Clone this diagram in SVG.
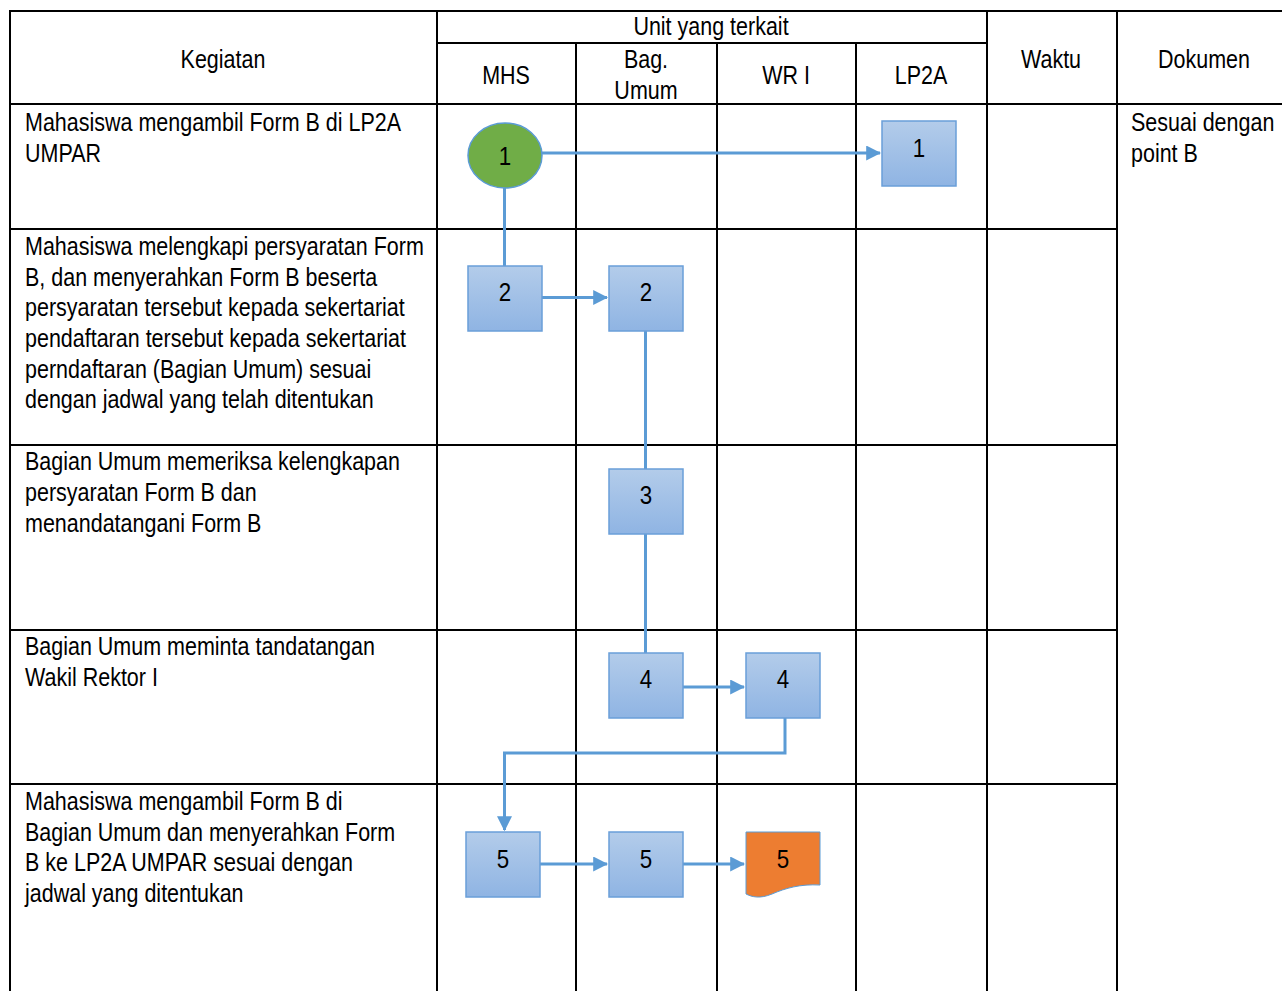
<svg xmlns="http://www.w3.org/2000/svg" width="1282" height="991" viewBox="0 0 1282 991">
<style>
text{font-family:"Liberation Sans",Arial,sans-serif;font-size:25px;fill:#000;}
.c{text-anchor:middle;}
.grid line{stroke:#000;stroke-width:2;}
.box{fill:url(#g);stroke:#6A9FD9;stroke-width:1.5;}
.con{stroke:#5B9BD5;stroke-width:3;fill:none;}
.n{font-size:26px;text-anchor:middle;}
</style>
<defs>
<linearGradient id="g" x1="0" y1="0" x2="0" y2="1">
<stop offset="0" stop-color="#B3CCEA"/>
<stop offset="1" stop-color="#8FB4E3"/>
</linearGradient>
<marker id="ah" markerWidth="5" markerHeight="5" refX="4.6" refY="2.5" orient="auto" markerUnits="strokeWidth">
<path d="M0,0 L5,2.5 L0,5 Z" fill="#5B9BD5"/>
</marker>
</defs>
<rect width="1282" height="991" fill="#fff"/>
<g class="grid">
<line x1="10" y1="11" x2="1282" y2="11"/>
<line x1="437" y1="43" x2="987" y2="43"/>
<line x1="10" y1="104" x2="1282" y2="104"/>
<line x1="10" y1="229" x2="1117" y2="229"/>
<line x1="10" y1="445" x2="1117" y2="445"/>
<line x1="10" y1="630" x2="1117" y2="630"/>
<line x1="10" y1="784" x2="1117" y2="784"/>
<line x1="10" y1="10" x2="10" y2="991"/>
<line x1="437" y1="10" x2="437" y2="991"/>
<line x1="576" y1="43" x2="576" y2="991"/>
<line x1="717" y1="43" x2="717" y2="991"/>
<line x1="856" y1="43" x2="856" y2="991"/>
<line x1="987" y1="10" x2="987" y2="991"/>
<line x1="1117" y1="10" x2="1117" y2="991"/>
</g>
<g id="header">
<text class="c" transform="translate(223,68) scale(0.86,1)">Kegiatan</text>
<text class="c" transform="translate(711,35) scale(0.86,1)">Unit yang terkait</text>
<text class="c" transform="translate(506,84) scale(0.86,1)">MHS</text>
<text class="c" transform="translate(646,68) scale(0.86,1)">Bag.</text>
<text class="c" transform="translate(646,99) scale(0.86,1)">Umum</text>
<text class="c" transform="translate(786,84) scale(0.86,1)">WR I</text>
<text class="c" transform="translate(921,84) scale(0.86,1)">LP2A</text>
<text class="c" transform="translate(1051,68) scale(0.86,1)">Waktu</text>
<text class="c" transform="translate(1204,68) scale(0.86,1)">Dokumen</text>
</g>
<g id="kegiatan" transform="translate(25,0) scale(0.86,1)">
<text x="0" y="131">Mahasiswa mengambil Form B di LP2A</text>
<text x="0" y="162">UMPAR</text>
<text x="0" y="255">Mahasiswa melengkapi persyaratan Form</text>
<text x="0" y="286">B, dan menyerahkan Form B beserta</text>
<text x="0" y="316">persyaratan tersebut kepada sekertariat</text>
<text x="0" y="347">pendaftaran tersebut kepada sekertariat</text>
<text x="0" y="378">perndaftaran (Bagian Umum) sesuai</text>
<text x="0" y="408">dengan jadwal yang telah ditentukan</text>
<text x="0" y="470">Bagian Umum memeriksa kelengkapan</text>
<text x="0" y="501">persyaratan Form B dan</text>
<text x="0" y="532">menandatangani Form B</text>
<text x="0" y="655">Bagian Umum meminta tandatangan</text>
<text x="0" y="686">Wakil Rektor I</text>
<text x="0" y="810">Mahasiswa mengambil Form B di</text>
<text x="0" y="841">Bagian Umum dan menyerahkan Form</text>
<text x="0" y="871">B ke LP2A UMPAR sesuai dengan</text>
<text x="0" y="902">jadwal yang ditentukan</text>
</g>
<g id="dokumen" transform="translate(1131,0) scale(0.86,1)">
<text x="0" y="131">Sesuai dengan</text>
<text x="0" y="162">point B</text>
</g>
<g id="connectors">
<line class="con" x1="542" y1="153" x2="880" y2="153" marker-end="url(#ah)"/>
<line class="con" x1="504.5" y1="188" x2="504.5" y2="266"/>
<line class="con" x1="542" y1="297.5" x2="607" y2="297.5" marker-end="url(#ah)"/>
<line class="con" x1="645.5" y1="331" x2="645.5" y2="469"/>
<line class="con" x1="645.5" y1="534" x2="645.5" y2="653"/>
<line class="con" x1="683" y1="687" x2="744" y2="687" marker-end="url(#ah)"/>
<polyline class="con" points="785,718 785,753 504.5,753 504.5,830" marker-end="url(#ah)"/>
<line class="con" x1="540" y1="864" x2="607" y2="864" marker-end="url(#ah)"/>
<line class="con" x1="683" y1="864" x2="744" y2="864" marker-end="url(#ah)"/>
</g>
<g id="n1-mhs">
<ellipse cx="505" cy="155.5" rx="37" ry="32.5" fill="#70AD47" stroke="#5B9BD5" stroke-width="1.5"/>
<text class="n" transform="translate(505,165) scale(0.86,1)">1</text>
</g>
<g id="n1-lp2a">
<rect class="box" x="882" y="121" width="74" height="65"/>
<text class="n" transform="translate(919,157) scale(0.86,1)">1</text>
</g>
<g id="n2-mhs">
<rect class="box" x="468" y="266" width="74" height="65"/>
<text class="n" transform="translate(505,301) scale(0.86,1)">2</text>
</g>
<g id="n2-bag">
<rect class="box" x="609" y="266" width="74" height="65"/>
<text class="n" transform="translate(646,301) scale(0.86,1)">2</text>
</g>
<g id="n3-bag">
<rect class="box" x="609" y="469" width="74" height="65"/>
<text class="n" transform="translate(646,504) scale(0.86,1)">3</text>
</g>
<g id="n4-bag">
<rect class="box" x="609" y="653" width="74" height="65"/>
<text class="n" transform="translate(646,688) scale(0.86,1)">4</text>
</g>
<g id="n4-wr">
<rect class="box" x="746" y="653" width="74" height="65"/>
<text class="n" transform="translate(783,688) scale(0.86,1)">4</text>
</g>
<g id="n5-mhs">
<rect class="box" x="466" y="832" width="74" height="65"/>
<text class="n" transform="translate(503,868) scale(0.86,1)">5</text>
</g>
<g id="n5-bag">
<rect class="box" x="609" y="832" width="74" height="65"/>
<text class="n" transform="translate(646,868) scale(0.86,1)">5</text>
</g>
<g id="n5-wr">
<path d="M746,832 H820 V885 C800,884 786,888 772,894 C760,899 752,897 746,894 Z" fill="#ED7D31" stroke="#5B9BD5" stroke-width="1"/>
<text class="n" transform="translate(783,868) scale(0.86,1)">5</text>
</g>
</svg>
